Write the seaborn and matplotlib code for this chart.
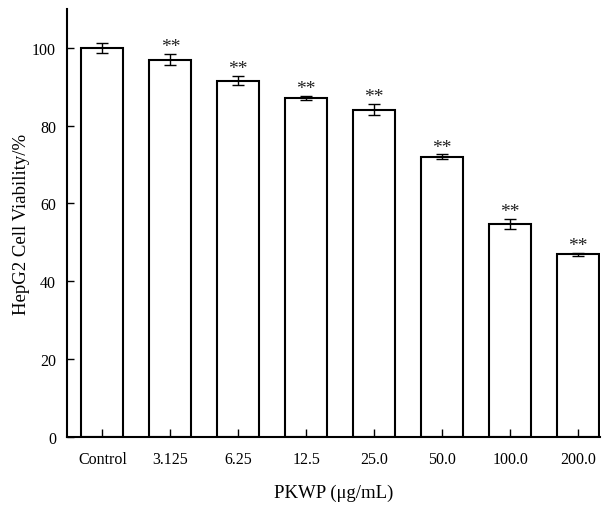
import pandas as pd
import seaborn as sns
import matplotlib.pyplot as plt

doses = ['Control', '3.125', '6.25', '12.5', '25.0', '50.0', '100.0', '200.0']
viability = [100.0, 97.0, 91.6, 87.2, 84.1, 72.0, 54.7, 47.0]
sd = [1.2, 1.5, 1.2, 0.5, 1.4, 0.6, 1.3, 0.4]
marks = ['', '**', '**', '**', '**', '**', '**', '**']

df = pd.DataFrame({'dose': doses, 'viability': viability})

sns.set_style('ticks')
plt.rcParams['font.family'] = ['Liberation Serif', 'DejaVu Serif']
plt.rcParams['text.color'] = 'black'
plt.rcParams['axes.labelcolor'] = 'black'
plt.rcParams['xtick.color'] = 'black'
plt.rcParams['ytick.color'] = 'black'

fig = plt.figure(figsize=(6.09, 5.06), dpi=100)
ax = fig.add_axes([0.11, 0.1344, 0.875, 0.846])
sns.barplot(data=df, x='dose', y='viability', color='white', edgecolor='black',
            linewidth=1.5, width=0.62, errorbar=None, ax=ax)

ax.errorbar(range(len(doses)), viability, yerr=sd, fmt='none', ecolor='black',
            elinewidth=1, capsize=4, capthick=1)
for i, (v, e, m) in enumerate(zip(viability, sd, marks)):
    ax.text(i, v + e - 0.3, m, ha='center', va='bottom', fontsize=14, color='#222222')

ax.set_axisbelow(False)
ax.set_ylim(0, 110)
ax.set_xlim(-0.52, 7.32)
ax.set_yticks([0, 20, 40, 60, 80, 100])
sns.despine(ax=ax)
for s in ['left', 'bottom']:
    ax.spines[s].set_linewidth(1.5)
    ax.spines[s].set_color('black')
ax.tick_params(axis='x', direction='in', length=6, width=1, labelsize=11.5, pad=10)
ax.tick_params(axis='y', direction='in', length=5, width=1, labelsize=11.5, pad=8)
ax.set_xlabel('PKWP (μg/mL)', fontsize=13.5, labelpad=12)
ax.set_ylabel('HepG2 Cell Viability/%', fontsize=13.5, labelpad=1)

fig.savefig('out.png', dpi=100)
